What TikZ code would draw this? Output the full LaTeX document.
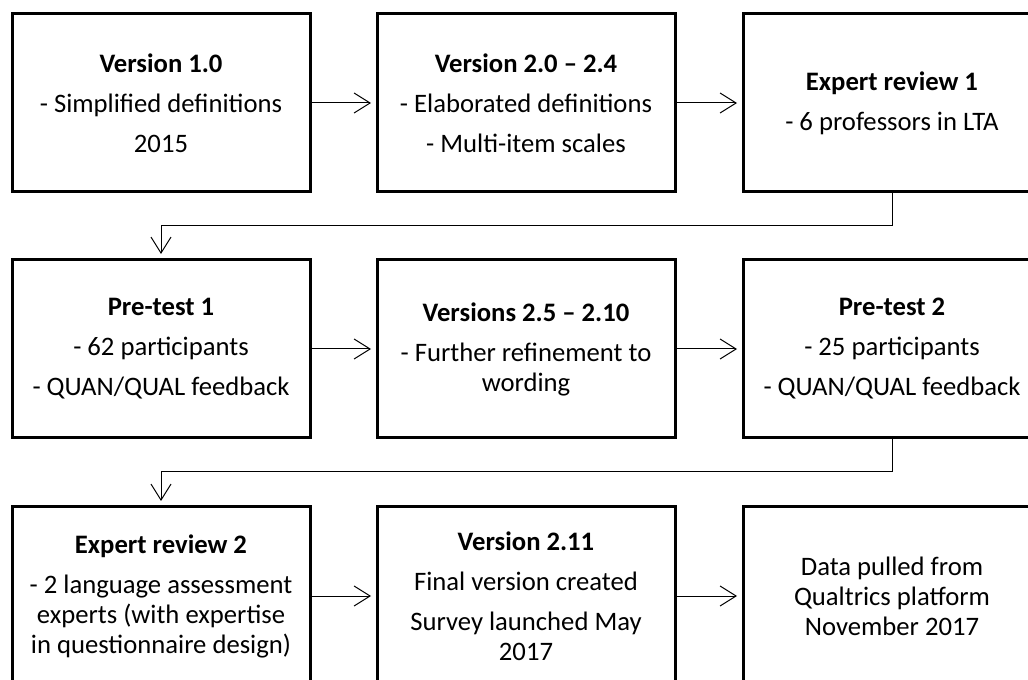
\documentclass[tikz,border=0pt]{standalone}
\usepackage{fontspec}
\setmainfont{Carlito}
\usetikzlibrary{arrows.meta}
\begin{document}
\begin{tikzpicture}[x=0.75pt,y=-0.75pt,
  box/.style={draw, line width=2.25pt, minimum width=223.5pt, minimum height=133.5pt,
    align=center, font=\fontsize{20pt}{22.5pt}\selectfont, inner sep=0pt, outer sep=0pt},
  arr/.style={line width=0.75pt, shorten >=4.5pt, -{Straight Barb[length=12pt,width=15pt]}}]
\clip (0,0) rectangle (1028,680);
% row 1
\node[box] (b1) at (161,103) {\textbf{Version 1.0}\\[7.5pt]- Simplified definitions\\[7.5pt]2015};
\node[box] (b2) at (526,103) {\textbf{Version 2.0 – 2.4}\\[7.5pt]- Elaborated definitions\\[7.5pt]- Multi-item scales};
\node[box] (b3) at (892,103) {\textbf{Expert review 1}\\[7.5pt]- 6 professors in LTA};
% row 2
\node[box] (b4) at (161,349) {\textbf{Pre-test 1}\\[7.5pt]- 62 participants\\[7.5pt]- QUAN/QUAL feedback};
\node[box] (b5) at (526,349) {\textbf{Versions 2.5 – 2.10}\\[7.5pt]- Further refinement to\\wording};
\node[box] (b6) at (892,349) {\textbf{Pre-test 2}\\[7.5pt]- 25 participants\\[7.5pt]- QUAN/QUAL feedback};
% row 3
\node[box] (b7) at (161,596) {\textbf{Expert review 2}\\[7.5pt]- 2 language assessment\\experts (with expertise\\in questionnaire design)};
\node[box] (b8) at (526,596) {\textbf{Version 2.11}\\[7.5pt]Final version created\\[7.5pt]Survey launched May\\2017};
\node[box] (b9) at (892,596) {Data pulled from\\Qualtrics platform\\November 2017};
% connectors
\draw[arr] (b1) -- (b2);
\draw[arr] (b2) -- (b3);
\draw[arr] (b4) -- (b5);
\draw[arr] (b5) -- (b6);
\draw[arr] (b7) -- (b8);
\draw[arr] (b8) -- (b9);
\draw[arr] (b3.south) -- ++(0,34) -| (b4.north);
\draw[arr] (b6.south) -- ++(0,34) -| (b7.north);
\end{tikzpicture}
\end{document}
